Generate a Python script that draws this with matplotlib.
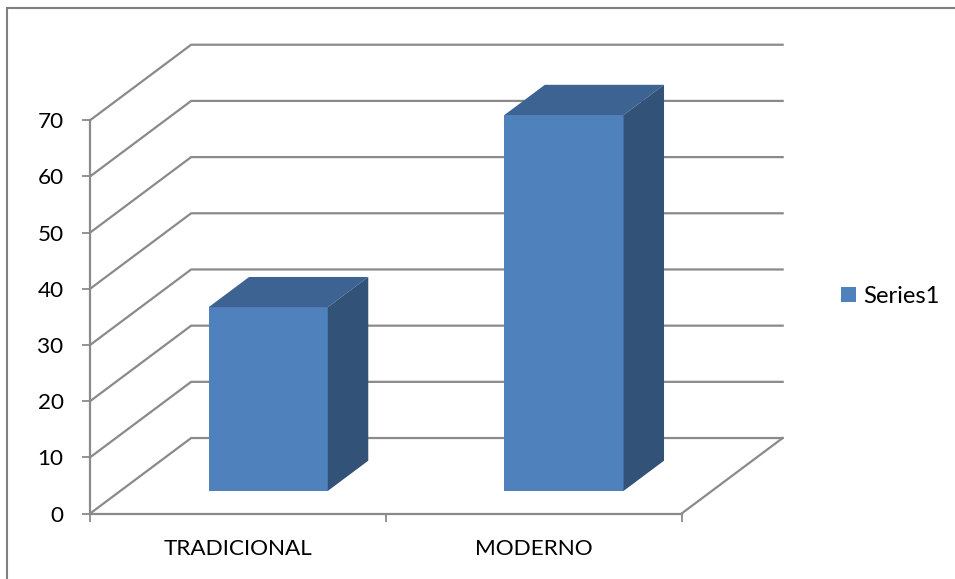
#!/usr/bin/env python3
"""Excel style 3D column chart, TRADICIONAL vs MODERNO."""

import matplotlib
matplotlib.use("Agg")
import matplotlib.pyplot as plt
from matplotlib.lines import Line2D

categories = ["TRADICIONAL", "MODERNO"]
values = [32.7, 66.9]
series_name = "Series1"
y_ticks = [0, 10, 20, 30, 40, 50, 60, 70]

W, H = 955, 579
GRAY = "#8a8a8a"
FRONT = "#4f81bd"
TOP = "#3c6391"
SIDE = "#325278"

# depth of the floor, in axis units (categories / values)
DEPTH_X = 0.342
DEPTH_Y = 13.45
BAR_W = 0.403
BAR_START = 0.30  # fraction of depth where the bar front sits
BAR_DEPTH = 0.40  # fraction of depth taken by the bar

plt.rcParams["font.family"] = ["Lato", "DejaVu Sans"]
plt.rcParams["font.size"] = 16.2

fig = plt.figure(figsize=(W / 100, H / 100), dpi=100)
# axes box is the front plane: x 90..681 px, y 513..120 px
ax = fig.add_axes([90.0 / W, 1 - 513.6 / H, 591.5 / W, 393.3 / H])
ax.set_xlim(0, len(categories))
ax.set_ylim(0, 70)
ax.patch.set_visible(False)
for side in ["top", "right"]:
    ax.spines[side].set_visible(False)
for side in ["left", "bottom"]:
    ax.spines[side].set_color(GRAY)
    ax.spines[side].set_linewidth(1.6)

ax.set_yticks(y_ticks)
ax.tick_params(axis="y", length=6, width=1.3, color=GRAY, pad=13, labelsize=16.2)
ax.set_xticks(range(len(categories) + 1))
ax.set_xticklabels([])
ax.set_xticks([i + 0.5 for i in range(len(categories))], categories, minor=True)
ax.tick_params(axis="x", which="major", length=6, width=1.3, color=GRAY)
ax.tick_params(axis="x", which="minor", length=0, pad=18.5)

# walls and floor
for v in y_ticks:
    ax.plot([0, DEPTH_X, len(categories) + DEPTH_X], [v, v + DEPTH_Y, v + DEPTH_Y],
            color=GRAY, lw=1.6, clip_on=False, zorder=1, solid_joinstyle="miter")
ax.plot([len(categories), len(categories) + DEPTH_X], [0, DEPTH_Y],
        color=GRAY, lw=1.6, clip_on=False, zorder=1)

# columns, each as three faces
for i, val in enumerate(values):
    x0 = i + 0.5 - BAR_W / 2 + BAR_START * DEPTH_X
    x1 = x0 + BAR_W
    y0 = BAR_START * DEPTH_Y
    y1 = y0 + val
    dx = BAR_DEPTH * DEPTH_X
    dy = BAR_DEPTH * DEPTH_Y
    ax.fill([x0, x1, x1, x0], [y0, y0, y1, y1], color=FRONT, lw=0, clip_on=False,
            zorder=3, label=series_name if i == 0 else None)
    ax.fill([x0, x1, x1 + dx, x0 + dx], [y1, y1, y1 + dy, y1 + dy], color=TOP, lw=0,
            clip_on=False, zorder=3)
    ax.fill([x1, x1 + dx, x1 + dx, x1], [y0, y0 + dy, y1 + dy, y1], color=SIDE, lw=0,
            clip_on=False, zorder=3)

ax.legend(loc="center left", bbox_to_anchor=(841 / W, 1 - 296.5 / H),
          bbox_transform=fig.transFigure, frameon=False, borderaxespad=0, borderpad=0,
          fontsize=17.2, handlelength=0.63, handleheight=0.63, handletextpad=0.28)

# chart frame, only left and top show
fig.add_artist(Line2D([7 / W, 7 / W, 1], [0, 1 - 8 / H, 1 - 8 / H],
                      color="#7f7f7f", lw=1.5, solid_joinstyle="miter"))

fig.savefig("out.png", dpi=100)
